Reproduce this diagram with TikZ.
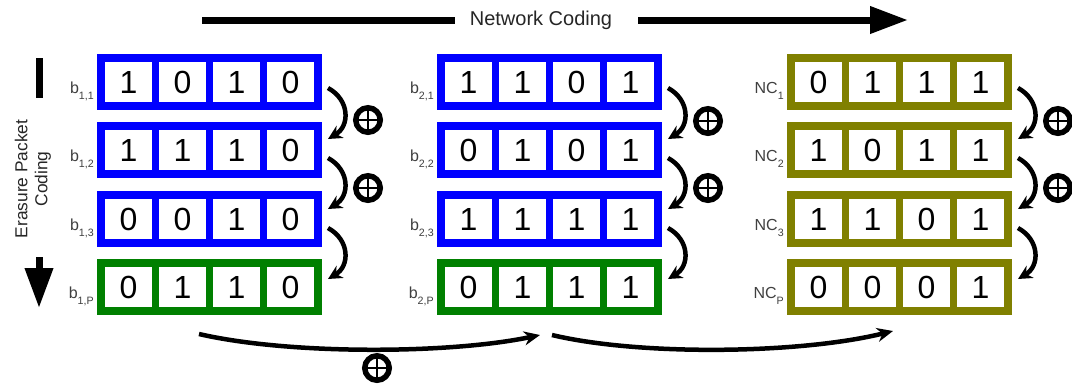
\documentclass[tikz,border=0pt]{standalone}
\usepackage{fontspec}
\setmainfont{Liberation Sans}
\usetikzlibrary{arrows.meta}
\newlength\pxl \setlength\pxl{0.75pt}
\definecolor{cblue}{RGB}{0,0,255}
\definecolor{cgreen}{RGB}{0,128,0}
\definecolor{colive}{RGB}{128,128,0}
\newcommand\lsub[1]{\raisebox{-5pt}{\fontsize{8}{8}\selectfont #1}}
\tikzset{
 rowbox/.style={minimum width=225\pxl, minimum height=56\pxl, inner sep=0pt, draw=none},
 cell/.style={fill=white, minimum width=47\pxl, minimum height=40\pxl, inner sep=0pt, font=\fontsize{24}{24}\selectfont},
 lbl/.style={anchor=base east, inner sep=0pt, text=black!75, font=\fontsize{12}{12}\selectfont},
 curvarr/.style={line width=4.5\pxl, -{Stealth[length=10.5pt,width=10.5pt]}},
 bigline/.style={line width=7\pxl},
 botarr/.style={line width=4.5\pxl, -{Stealth[length=12pt,width=10.5pt]}},
 xorsym/.style={circle, draw, line width=5.5\pxl, minimum size=24.5\pxl, inner sep=0pt,
   path picture={\draw[line width=2\pxl] (path picture bounding box.north) -- (path picture bounding box.south)
     (path picture bounding box.west) -- (path picture bounding box.east);}},
}
\newcommand\bitrow[9]{%
 \node[rowbox, fill=#2] (#1) at ({#3+112.5},{#4+28}) {};
 \node[cell] (#1-1) at ({#3+31.5},{#4+28}) {#5};
 \node[cell] (#1-2) at ({#3+85.5},{#4+28}) {#6};
 \node[cell] (#1-3) at ({#3+139.5},{#4+28}) {#7};
 \node[cell] (#1-4) at ({#3+193.5},{#4+28}) {#8};
 \node[lbl] (#1-l) at ({#3-3},{#4+39}) {#9};
}
\newcommand\sidearrow[3]{%
 \coordinate (#1s) at (#2,#3);
 \coordinate (#1e) at (#2,{#3+51});
 \draw[curvarr] (#1s) .. controls ({#2+22},{#3+12}) and ({#2+22},{#3+38}) .. (#1e);
}
\begin{document}
\begin{tikzpicture}[x=0.75pt,y=-0.75pt]
\useasboundingbox (0,0) rectangle (1072,383);
\fill[white] (0,0) rectangle (1072,383);
% column 1
\bitrow{r11}{cblue}{97}{54}{1}{0}{1}{0}{b\lsub{1,1}}
\bitrow{r12}{cblue}{97}{122}{1}{1}{1}{0}{b\lsub{1,2}}
\bitrow{r13}{cblue}{97}{191}{0}{0}{1}{0}{b\lsub{1,3}}
\bitrow{r14}{cgreen}{97}{259}{0}{1}{1}{0}{b\lsub{1,P}}
% column 2
\bitrow{r21}{cblue}{437}{54}{1}{1}{0}{1}{b\lsub{2,1}}
\bitrow{r22}{cblue}{437}{122}{0}{1}{0}{1}{b\lsub{2,2}}
\bitrow{r23}{cblue}{437}{191}{1}{1}{1}{1}{b\lsub{2,3}}
\bitrow{r24}{cgreen}{437}{259}{0}{1}{1}{1}{b\lsub{2,P}}
% column 3
\bitrow{r31}{colive}{787}{54}{0}{1}{1}{1}{NC\lsub{1}}
\bitrow{r32}{colive}{787}{122}{1}{0}{1}{1}{NC\lsub{2}}
\bitrow{r33}{colive}{787}{191}{1}{1}{0}{1}{NC\lsub{3}}
\bitrow{r34}{colive}{787}{259}{0}{0}{0}{1}{NC\lsub{P}}
% side arrows
\sidearrow{a11}{328}{88}
\sidearrow{a12}{328}{158}
\sidearrow{a13}{328}{228}
\sidearrow{a21}{668}{88}
\sidearrow{a22}{668}{158}
\sidearrow{a23}{668}{228}
\sidearrow{a31}{1018}{88}
\sidearrow{a32}{1018}{158}
\sidearrow{a33}{1018}{228}
% xor symbols
\node[xorsym] (x11) at (368,120) {};
\node[xorsym] (x12) at (368,188) {};
\node[xorsym] (x21) at (708,121) {};
\node[xorsym] (x22) at (708,188) {};
\node[xorsym] (x31) at (1058,121) {};
\node[xorsym] (x32) at (1058,188) {};
\node[xorsym] (xb) at (377,368) {};
% top arrow
\node[font=\fontsize{15}{15}\selectfont, text=black!85, inner sep=0pt] (title) at (541,20) {Network Coding};
\coordinate (t1) at (202,20);
\coordinate (t2) at (455,20);
\coordinate (t3) at (638,20);
\coordinate (t4) at (908,20);
\draw[bigline] (t1) -- (t2);
\draw[bigline, -{Triangle[length=28.5pt,width=19.5pt]}] (t3) -- (t4);
% left arrow
\node[rotate=90, align=center, font=\fontsize{13}{15}\selectfont, text=black!85, inner sep=0pt] (side) at (33,179) {Erasure Packet\\Coding};
\coordinate (l1) at (39,58);
\coordinate (l2) at (39,98);
\coordinate (l3) at (39,257);
\coordinate (l4) at (39,308);
\draw[bigline] (l1) -- (l2);
\draw[bigline, -{Triangle[length=30pt,width=20.25pt]}] (l3) -- (l4);
% bottom arrows
\coordinate (b1s) at (199,334);
\coordinate (b1e) at (540,335);
\coordinate (b2s) at (552,335);
\coordinate (b2e) at (893,331);
\draw[botarr] (b1s) .. controls (290,355) and (450,354) .. (b1e);
\draw[botarr] (b2s) .. controls (640,356) and (800,354) .. (b2e);
\end{tikzpicture}
\end{document}
